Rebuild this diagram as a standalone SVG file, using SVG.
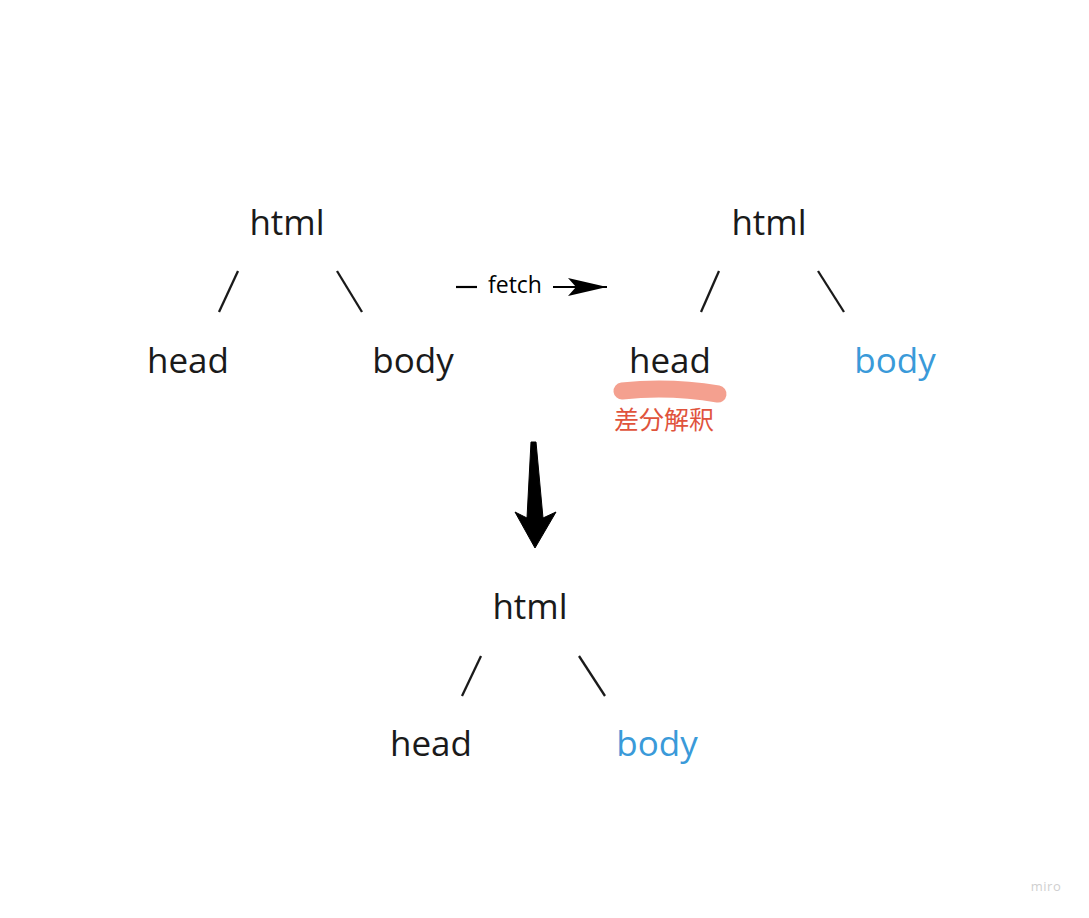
<svg xmlns="http://www.w3.org/2000/svg" width="1089" height="918" viewBox="0 0 1089 918">
<style>
.t{font-family:"Open Sans","Noto Sans",sans-serif;font-size:35px;fill:#1a1a1a;text-anchor:middle}
.b{fill:#3a9ad9}
.e{stroke:#1a1a1a;stroke-width:2.3;fill:none}
</style>
<defs>
<marker id="ah" markerWidth="42" markerHeight="20" refX="39" refY="9" orient="auto" markerUnits="userSpaceOnUse">
<path d="M0,0 L39,9 L0,18 L8,9 Z" fill="#000"/>
</marker>
</defs>
<rect width="1089" height="918" fill="#fff"/>
<g id="tree1">
<g id="t1-html"><text class="t" x="287" y="235">html</text></g>
<g id="t1-head"><text class="t" x="188" y="373">head</text></g>
<g id="t1-body"><text class="t" x="413" y="373">body</text></g>
</g>
<g id="tree2">
<g id="t2-html"><text class="t" x="769" y="235">html</text></g>
<g id="t2-head"><text class="t" x="670" y="373">head</text></g>
<g id="t2-body"><text class="t b" x="895" y="373">body</text></g>
</g>
<g id="tree3">
<g id="t3-html"><text class="t" x="530" y="619">html</text></g>
<g id="t3-head"><text class="t" x="431" y="756">head</text></g>
<g id="t3-body"><text class="t b" x="657" y="756">body</text></g>
</g>
<g id="highlight">
<path d="M622,391 Q670,386 718,394" stroke="#f4a08f" stroke-width="17" stroke-linecap="round" fill="none"/>
<text x="664" y="429" font-family="'Noto Sans CJK JP','Noto Sans CJK SC',sans-serif" font-size="25" fill="#e0533c" text-anchor="middle">差分解釈</text>
</g>
<g id="connectors">
<line class="e" x1="238" y1="271" x2="219" y2="312"/>
<line class="e" x1="337" y1="271" x2="362" y2="312"/>
<line class="e" x1="719" y1="271" x2="701" y2="312"/>
<line class="e" x1="818" y1="271" x2="844" y2="312"/>
<line class="e" x1="481" y1="656" x2="462" y2="696"/>
<line class="e" x1="579" y1="656" x2="605" y2="696"/>
<g id="fetch">
<line x1="456" y1="287" x2="477" y2="287" stroke="#000" stroke-width="2.2"/>
<text x="515" y="293" font-family="'Open Sans','Noto Sans',sans-serif" font-size="23" fill="#000" text-anchor="middle">fetch</text>
<line x1="553" y1="287" x2="607" y2="287" stroke="#000" stroke-width="2.2" marker-end="url(#ah)"/>
</g>
<path id="bigarrow" d="M531,442 L536,442 L543,518 L556,512 L535,548 L515,512 L527,518 Z" fill="#000" stroke="#000" stroke-width="1" stroke-linejoin="round"/>
</g>
<text x="1046" y="891" font-family="'Open Sans',sans-serif" font-size="13" fill="#cfcfcf" text-anchor="middle" letter-spacing="0.5">miro</text>
</svg>
